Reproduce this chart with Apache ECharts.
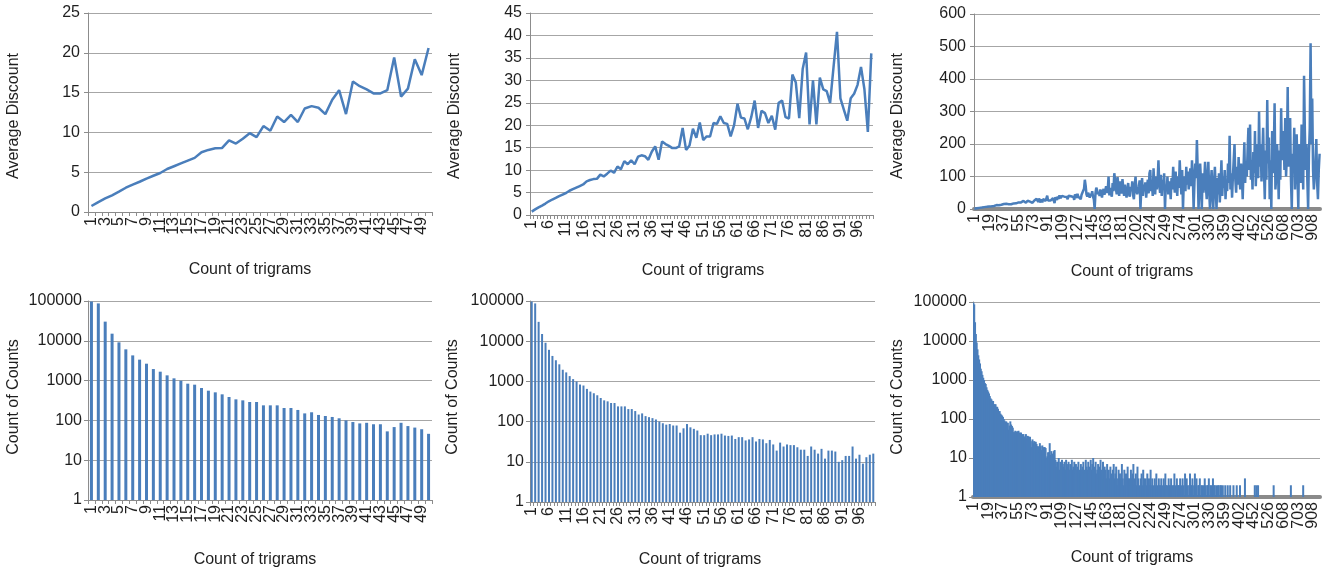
<!DOCTYPE html>
<html>
<head>
<meta charset="utf-8">
<script src="https://cdn.jsdelivr.net/npm/echarts@6/dist/echarts.min.js"></script>
<style>
html,body{margin:0;padding:0;background:#fff;}
#chart{width:1327px;height:572px;}
</style>
</head>
<body>
<div id="chart"></div>
<script>
// Distinct "count of trigrams" values (categories)
const trigramCounts = [
1,2,3,4,5,6,7,8,9,10,11,12,13,14,15,16,17,18,19,20,
21,22,23,24,25,26,27,28,29,30,31,32,33,34,35,36,37,38,39,40,
41,42,43,44,45,46,47,48,49,50,51,52,53,54,55,56,57,58,59,60,
61,62,63,64,65,66,67,68,69,70,71,72,73,74,75,76,77,78,79,80,
81,82,83,84,85,86,87,88,89,90,91,92,93,94,95,96,97,98,99,100,
101,102,103,104,105,106,107,108,109,110,111,112,113,114,115,116,117,118,119,120,
121,122,123,124,125,126,127,128,129,130,131,132,133,134,135,136,137,138,139,140,
141,142,143,144,145,146,147,148,149,150,151,152,153,154,155,156,157,158,159,160,
161,162,163,164,165,166,167,168,169,170,171,172,173,174,175,176,177,178,179,180,
181,
182,183,184,185,186,187,189,190,191,192,193,194,196,197,198,200,201,202,
203,204,205,207,208,209,210,212,213,214,216,217,218,219,221,222,223,224,
225,226,228,229,231,232,233,235,236,238,239,241,242,244,245,247,248,249,
250,251,253,254,256,257,259,260,261,263,264,266,267,269,270,272,273,274,
276,277,279,280,282,283,285,286,288,289,291,292,294,295,297,298,300,301,
303,304,306,307,309,311,312,314,316,317,319,321,322,324,326,327,329,330,
332,333,335,337,338,340,342,343,345,347,348,350,352,353,355,356,358,359,
361,363,365,368,370,372,374,377,379,381,384,386,389,391,394,397,399,402,
405,408,410,413,416,418,421,424,427,430,433,436,439,442,445,447,450,452,
456,460,464,468,472,476,480,484,488,492,496,500,505,509,513,518,522,526,
531,536,541,546,550,555,560,565,570,574,579,584,589,593,598,602,605,608,
614,619,625,630,636,641,647,652,657,663,668,674,679,685,690,695,699,703,
710,717,725,733,741,750,758,767,776,786,796,808,821,835,851,870,889,908,
925,951,987,1033,1094,1180,1327,1612
];

// Average discount per trigram count
const averageDiscount = [
0.75,1.25,1.7,2.1,2.55,3.05,3.45,3.8,4.2,4.55,
4.9,5.4,5.75,6.1,6.45,6.8,7.5,7.8,8.0,8.05,
9.0,8.6,9.2,9.9,9.4,10.8,10.2,12.0,11.3,12.2,
11.3,13.0,13.3,13.1,12.3,14.1,15.3,12.3,16.4,15.8,
15.4,14.9,14.9,15.3,19.4,14.5,15.5,19.2,17.2,20.6,
16.7,17.5,17.5,20.5,20.3,22.0,20.5,20.3,17.5,20.0,
24.8,21.7,21.5,19.1,21.8,25.5,19.4,23.2,22.7,20.5,
22.1,19.0,25.0,25.5,21.8,21.5,31.3,29.5,21.6,32.5,
36.2,20.2,30.0,20.2,30.6,28.0,27.6,25.0,33.0,40.8,
26.0,23.5,21.0,26.0,27.0,29.0,33.0,28.0,18.5,36.0,
35,28,38,31,42,33,29,40,36,45,
38,32,44,37,30,41,46,35,39,33,
43,37,28,45,40,34,47,38,42,36,
30,44,39,48,62,90,72,45,38,50,
42,35,47,40,55,38,30,0,48,66,
58,45,52,40,60,48,35,55,62,44,
38,70,50,58,100,42,65,48,38,80,
55,110,90,62,45,98,70,40,85,58,
48,92,66,40,75,52,35,60,80,45,
38,68,55,85,42,30,72,100,58,45,
45,70,88,0,60,95,40,75,55,82,
35,65,90,48,110,120,55,80,40,125,
70,45,100,60,88,150,75,50,105,40,
90,62,110,0,75,55,100,45,85,68,
30,95,60,130,80,50,115,70,40,100,
65,150,90,45,120,0,85,100,55,130,
75,115,60,90,125,70,150,100,0,80,
140,95,212,120,0,60,140,85,0,110,
50,90,145,70,30,100,145,55,0,75,
120,40,0,85,130,60,0,95,45,110,
20,75,150,40,100,65,120,30,90,55,
140,80,225,60,110,35,100,150,200,90,
50,130,75,160,95,60,140,100,30,120,
205,80,145,100,180,250,120,260,90,150,
60,175,110,240,70,150,200,95,300,130,
200,85,160,250,120,30,180,90,335,140,
220,30,150,0,240,110,175,325,60,100,
200,140,30,180,90,310,150,200,240,120,
280,100,160,375,130,220,280,90,0,170,
120,250,60,180,230,100,0,200,140,80,
260,150,60,410,240,120,200,90,0,170,
250,510,200,340,120,60,100,150,215,80,
30,120,170
];

// Number of items having each trigram count
const countOfCounts = [
97000,87000,30300,15100,9150,6100,4300,3360,2660,1950,
1675,1355,1140,995,837,790,651,558,507,452,
387,338,319,290,290,239,239,239,205,205,
183,150,160,137,129,122,113,100,91,84,
87,80,80,53,68,87,72,66,60,46,
46,50,46,48,48,50,45,44,45,37,
41,41,34,36,41,32,37,36,29,35,
27,19,30,24,27,26,26,23,20,20,
14,24,20,16,21,12,19,19,18,10,
11,14,14,24,12,15,9,13,15,16,
9,6,8,7,10,5,8,6,9,7,
6,8,5,9,7,6,8,5,7,6,
9,5,6,8,4,7,5,6,8,5,
4,7,5,6,8,5,4,9,6,5,
8,4,6,9,5,7,10,1,6,8,
4,5,7,3,6,9,5,4,8,3,
6,5,3,7,4,5,3,6,4,3,
5,7,3,4,6,3,2,5,4,3,
4,7,3,2,5,3,4,2,6,3,
3,2,5,3,4,7,2,3,4,2,
6,3,2,1,3,4,2,5,3,2,
3,2,4,1,3,2,5,2,3,1,
2,3,2,4,2,1,3,2,2,3,
2,1,3,2,4,2,2,1,3,2,
2,3,1,2,2,4,2,1,3,2,
2,2,3,1,2,3,2,1,4,2,
3,2,1,2,4,2,2,3,1,2,
4,2,3,1,2,2,3,1,2,2,
1,2,3,2,1,2,2,3,1,2,
2,1,3,2,2,1,2,1,2,2,
1,2,2,1,2,1,1,2,1,1,
2,1,1,2,1,1,1,2,1,1,
1,2,1,1,1,2,1,1,1,1,
1,3,1,1,1,1,1,1,1,1,
1,1,1,2,1,2,1,2,1,1,
1,1,1,1,1,1,1,1,1,1,
1,1,1,1,1,1,2,1,1,1,
1,1,1,1,1,1,1,1,1,1,
1,1,1,1,1,1,1,2,1,1,
1,1,1,1,1,1,1,1,1,1,
1,1,2,1,1,1,1,1,1,1,
1,1,1,1,1,1,1,1,1,1,
1,1,1
];

const yTitleTop = 'Average Discount';
const yTitleBottom = 'Count of Counts';
const xTitle = 'Count of trigrams';
const panelSizes = [50, 100, trigramCounts.length];
const labelSteps = [2, 5, 18];   // a tick label every N categories

const FONT = "'Liberation Sans', Arial, sans-serif";
const BLUE = '#4a7ebb';
const TEXT = '#1f1f1f';

const grids = [
  {left: 88, top: 13, width: 344, height: 199},
  {left: 530, top: 13, width: 343, height: 202},
  {left: 974, top: 14, width: 346, height: 195},
  {left: 88, top: 301, width: 344, height: 199},
  {left: 530, top: 301, width: 345, height: 201},
  {left: 973, top: 302, width: 347, height: 195}
];

const xAxes = [], yAxes = [], series = [];
for (let p = 0; p < 6; p++) {
  const col = p % 3;
  const n = panelSizes[col];
  const thick = col === 2;
  const step = labelSteps[col];
  const cats = trigramCounts.slice(0, n).map(String);
  const labelBase = {rotate: 90, fontSize: 16, fontFamily: FONT, color: TEXT, margin: 5};
  // main axis: line, ticks, and even-numbered label slots
  xAxes.push({
    type: 'category', gridIndex: p, boundaryGap: true, position: 'bottom', offset: 0,
    data: cats,
    axisLine: {show: true, onZero: false, lineStyle: {color: '#8a8a8a', width: thick ? 4 : 1}},
    axisTick: {show: !thick, length: 4, interval: 0, lineStyle: {color: '#8c8c8c'}},
    axisLabel: Object.assign({}, labelBase, {interval: function (i) { return i % (2 * step) === 0; }}),
    splitLine: {show: false}
  });
  // companion axis: odd-numbered label slots only (avoids label auto-hiding)
  xAxes.push({
    type: 'category', gridIndex: p, boundaryGap: true, position: 'bottom', offset: 0,
    data: cats,
    axisLine: {show: false, onZero: false},
    axisTick: {show: false},
    axisLabel: Object.assign({}, labelBase, {interval: function (i) { return i % (2 * step) === step; }}),
    splitLine: {show: false}
  });
  if (p < 3) {
    const maxes = [25, 45, 600];
    const ints = [5, 5, 100];
    yAxes.push({
      type: 'value', gridIndex: p, min: 0, max: maxes[col], interval: ints[col],
      axisLine: {show: true, lineStyle: {color: '#8c8c8c'}},
      axisTick: {show: true, length: 4, lineStyle: {color: '#8c8c8c'}},
      axisLabel: {fontSize: 16, fontFamily: FONT, color: TEXT, margin: 8},
      splitLine: {show: true, lineStyle: {color: '#a6a6a6', width: 1}}
    });
    series.push({
      type: 'line', xAxisIndex: 2 * p, yAxisIndex: p,
      data: averageDiscount.slice(0, n),
      symbol: 'none', smooth: false, z: 3,
      lineStyle: {color: BLUE, width: 2.5},
      itemStyle: {color: BLUE}
    });
  } else {
    yAxes.push({
      type: 'log', logBase: 10, gridIndex: p, min: 1, max: 100000,
      axisLine: {show: true, lineStyle: {color: '#8c8c8c'}},
      axisTick: {show: true, length: 4, lineStyle: {color: '#8c8c8c'}},
      axisLabel: {fontSize: 16, fontFamily: FONT, color: TEXT, margin: 6,
        formatter: function (v) { return String(Math.round(v)); }},
      splitLine: {show: true, lineStyle: {color: '#a6a6a6', width: 1}}
    });
    const widths = [3, 2, 2];
    series.push({
      type: 'bar', xAxisIndex: 2 * p, yAxisIndex: p,
      data: countOfCounts.slice(0, n),
      barWidth: widths[col],
      itemStyle: {color: BLUE},
      z: 3
    });
  }
}

function txt(x, y, s, rot) {
  return {
    type: 'text', x: x, y: y, rotation: rot ? Math.PI / 2 : 0, z: 10,
    style: {text: s, font: '16px ' + FONT, fill: TEXT, align: 'center', verticalAlign: 'middle'}
  };
}
const graphics = [
  txt(14, 116, yTitleTop, true),
  txt(455, 116, yTitleTop, true),
  txt(898, 116, yTitleTop, true),
  txt(14, 397, yTitleBottom, true),
  txt(453, 397, yTitleBottom, true),
  txt(898, 397, yTitleBottom, true),
  txt(250, 270, xTitle, false),
  txt(703, 271, xTitle, false),
  txt(1132, 272, xTitle, false),
  txt(255, 560, xTitle, false),
  txt(700, 560, xTitle, false),
  txt(1132, 558, xTitle, false)
];

const chart = echarts.init(document.getElementById('chart'), null, {renderer: 'canvas'});
chart.setOption({
  animation: false,
  backgroundColor: '#ffffff',
  grid: grids,
  xAxis: xAxes,
  yAxis: yAxes,
  series: series,
  graphic: graphics
});
</script>
</body>
</html>
